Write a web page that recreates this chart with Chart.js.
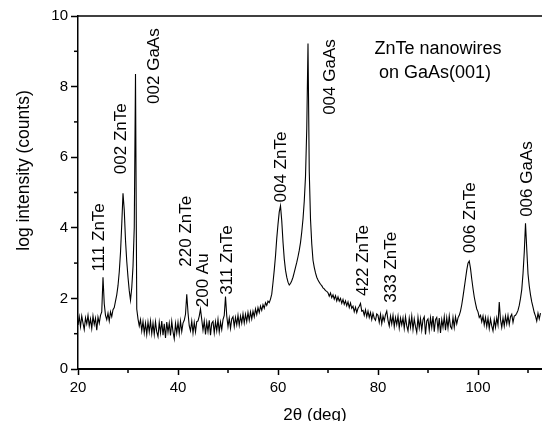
<!DOCTYPE html>
<html><head><meta charset="utf-8">
<script src="https://cdn.jsdelivr.net/npm/chart.js@4.4.1/dist/chart.umd.min.js"></script>
<style>html,body{margin:0;padding:0;background:#fff;}canvas{display:block;}</style>
</head><body>
<canvas id="c" width="542" height="421"></canvas>
<script>
// 2θ sampling (deg)
const twoTheta = [
 20,20.25,20.5,20.75,21,21.25,21.5,21.75,22,22.25,22.5,22.75,23,23.25,23.5,23.75,24,24.25,24.5,24.75,
 25,25.25,25.5,25.75,26,26.25,26.5,26.75,27,27.25,27.5,27.75,28,28.25,28.5,28.75,29,29.25,29.5,29.75,
 30,30.25,30.5,30.75,31,31.25,31.5,31.75,32,32.25,32.5,32.75,33,33.25,33.5,33.75,34,34.25,34.5,34.75,
 35,35.25,35.5,35.75,36,36.25,36.5,36.75,37,37.25,37.5,37.75,38,38.25,38.5,38.75,39,39.25,39.5,39.75,
 40,40.25,40.5,40.75,41,41.25,41.5,41.75,42,42.25,42.5,42.75,43,43.25,43.5,43.75,44,44.25,44.5,44.75,
 45,45.25,45.5,45.75,46,46.25,46.5,46.75,47,47.25,47.5,47.75,48,48.25,48.5,48.75,49,49.25,49.5,49.75,
 50,50.25,50.5,50.75,51,51.25,51.5,51.75,52,52.25,52.5,52.75,53,53.25,53.5,53.75,54,54.25,54.5,54.75,
 55,55.25,55.5,55.75,56,56.25,56.5,56.75,57,57.25,57.5,57.75,58,58.25,58.5,58.75,59,59.25,59.5,59.75,
 60,60.25,60.5,60.75,61,61.25,61.5,61.75,62,62.25,62.5,62.75,63,63.25,63.5,63.75,64,64.25,64.5,64.75,
 65,65.25,65.5,65.75,66,66.25,66.5,66.75,67,67.25,67.5,67.75,68,68.25,68.5,68.75,69,69.25,69.5,69.75,
 70,70.25,70.5,70.75,71,71.25,71.5,71.75,72,72.25,72.5,72.75,73,73.25,73.5,73.75,74,74.25,74.5,74.75,
 75,75.25,75.5,75.75,76,76.25,76.5,76.75,77,77.25,77.5,77.75,78,78.25,78.5,78.75,79,79.25,79.5,79.75,
 80,80.25,80.5,80.75,81,81.25,81.5,81.75,82,82.25,82.5,82.75,83,83.25,83.5,83.75,84,84.25,84.5,84.75,
 85,85.25,85.5,85.75,86,86.25,86.5,86.75,87,87.25,87.5,87.75,88,88.25,88.5,88.75,89,89.25,89.5,89.75,
 90,90.25,90.5,90.75,91,91.25,91.5,91.75,92,92.25,92.5,92.75,93,93.25,93.5,93.75,94,94.25,94.5,94.75,
 95,95.25,95.5,95.75,96,96.25,96.5,96.75,97,97.25,97.5,97.75,98,98.25,98.5,98.75,99,99.25,99.5,99.75,
 100,100.25,100.5,100.75,101,101.25,101.5,101.75,102,102.25,102.5,102.75,103,103.25,103.5,103.75,104,104.25,104.5,104.75,
 105,105.25,105.5,105.75,106,106.25,106.5,106.75,107,107.25,107.5,107.75,108,108.25,108.5,108.75,109,109.25,109.5,109.75,
 110,110.25,110.5,110.75,111,111.25,111.5,111.75,112,112.25,112.5
];
// log intensity (counts)
const logIntensity = [
 1.25,1.48,1.20,1.50,1.30,1.12,1.45,1.28,1.52,1.22,1.42,1.15,1.50,1.26,1.44,1.10,1.47,1.30,1.52,1.62,
 2.60,1.85,1.52,1.40,1.58,1.36,1.62,1.48,1.68,1.74,1.92,2.10,2.36,2.75,3.30,4.10,4.98,4.50,3.65,3.05,
 2.60,2.22,1.95,2.30,2.90,4.00,8.36,1.70,1.42,1.22,1.40,1.08,1.35,1.02,1.30,0.98,1.33,1.05,1.36,1.00,
 1.30,0.98,1.34,1.05,0.92,1.32,1.02,1.36,0.96,1.28,0.88,1.33,1.04,1.30,0.95,1.35,1.06,0.86,1.29,1.02,
 1.32,1.00,1.36,1.06,1.30,1.38,1.55,2.12,1.60,1.22,1.08,1.36,1.02,1.32,1.05,1.34,1.36,1.50,1.70,1.40,
 1.10,1.36,0.98,1.32,1.06,1.38,0.96,1.30,1.35,1.02,1.34,1.08,1.40,1.05,1.33,1.12,1.40,1.52,2.05,1.50,
 1.20,1.44,1.15,1.42,1.48,1.20,1.46,1.25,1.52,1.24,1.50,1.30,1.56,1.30,1.55,1.34,1.60,1.38,1.62,1.42,
 1.64,1.48,1.70,1.54,1.74,1.60,1.78,1.66,1.82,1.72,1.88,1.80,1.92,1.88,1.98,2.12,2.45,2.80,3.20,3.70,
 4.10,4.45,4.62,4.20,3.60,3.12,2.80,2.60,2.46,2.38,2.42,2.50,2.60,2.74,2.88,3.02,3.18,3.36,3.58,3.88,
 4.25,4.75,5.45,6.80,9.22,5.60,4.25,3.55,3.08,2.88,2.72,2.60,2.52,2.46,2.40,2.36,2.30,2.27,2.22,2.20,
 2.16,2.06,2.15,2.02,2.10,1.98,2.08,1.93,2.04,1.92,2.00,1.86,1.97,1.83,1.93,1.79,1.90,1.74,1.87,1.72,
 1.78,1.62,1.75,1.60,1.72,1.78,1.86,1.64,1.66,1.52,1.68,1.48,1.64,1.46,1.60,1.40,1.58,1.44,1.38,1.56,
 1.52,1.32,1.55,1.28,1.50,1.36,1.54,1.64,1.38,1.22,1.50,1.28,1.52,1.20,1.46,1.26,1.50,1.16,1.44,1.25,
 1.45,1.15,1.48,1.22,1.08,1.44,1.18,1.50,1.12,1.42,1.20,1.04,1.46,1.16,1.43,1.10,1.40,1.48,0.98,1.36,
 1.42,1.10,1.45,1.18,1.50,1.06,1.40,1.46,1.12,1.44,1.02,1.40,1.18,1.48,1.10,1.45,1.16,1.50,1.20,1.14,
 1.46,1.18,1.48,1.28,1.45,1.52,1.64,1.82,2.05,2.30,2.55,2.80,3.00,3.06,2.85,2.55,2.28,2.04,1.86,1.70,
 1.62,1.46,1.52,1.34,1.50,1.25,1.46,1.20,1.44,1.15,1.42,1.22,1.08,1.40,1.18,1.45,1.25,1.90,1.40,1.18,
 1.45,1.22,1.50,1.28,1.52,1.26,1.48,1.55,1.32,1.50,1.52,1.58,1.66,1.80,2.00,2.25,2.70,3.30,4.13,3.40,
 2.70,2.35,2.10,1.90,1.75,1.60,1.50,1.36,1.58,1.42,1.58
];
const xTickValues = [20, 40, 60, 80, 100];
const xMinorTicks = [30, 50, 70, 90, 110];
const yTickValues = [0, 2, 4, 6, 8, 10];
const yMinorTicks = [1, 3, 5, 7, 9];
const peakLabels = ["111 ZnTe","002 ZnTe","002 GaAs","220 ZnTe","200 Au","311 ZnTe",
                    "004 ZnTe","004 GaAs","422 ZnTe","333 ZnTe","006 ZnTe","006 GaAs"];
// annotation anchors (2θ of text baseline, log intensity of text start)
const peakLabelAnchors = [[25.2,2.76],[29.6,5.52],[36.26,7.51],[42.5,2.90],[45.9,1.75],[50.7,2.10],
                          [61.6,4.72],[71.3,7.20],[77.9,2.07],[83.6,1.88],[99.3,3.28],[110.7,4.31]];
const sampleText = ["ZnTe nanowires", "on GaAs(001)"];
const sampleAnchors = [[92.0,8.92],[91.4,8.24]];

const FONT = '"Liberation Sans", Arial, sans-serif';

const decor = {
  id: 'decor',
  afterDraw(chart) {
    const {ctx, chartArea: a, scales: {x, y}} = chart;
    ctx.save();
    ctx.strokeStyle = '#000';
    ctx.lineWidth = 1.5;
    ctx.beginPath(); ctx.moveTo(a.left - 0.75, a.top); ctx.lineTo(a.right, a.top); ctx.stroke();
    xMinorTicks.forEach(v => { const p = x.getPixelForValue(v);
      ctx.beginPath(); ctx.moveTo(p, a.bottom); ctx.lineTo(p, a.bottom + 4); ctx.stroke(); });
    yMinorTicks.forEach(v => { const p = y.getPixelForValue(v);
      ctx.beginPath(); ctx.moveTo(a.left, p); ctx.lineTo(a.left - 4, p); ctx.stroke(); });
    ctx.fillStyle = '#000';
    ctx.font = '17px ' + FONT;
    peakLabels.forEach((t, i) => {
      const px = x.getPixelForValue(peakLabelAnchors[i][0]);
      const py = y.getPixelForValue(peakLabelAnchors[i][1]);
      ctx.save(); ctx.translate(px, py); ctx.rotate(-Math.PI / 2);
      ctx.textAlign = 'left'; ctx.textBaseline = 'alphabetic';
      ctx.fillText(t, 0, 0); ctx.restore();
    });
    ctx.font = '18px ' + FONT;
    ctx.textAlign = 'center'; ctx.textBaseline = 'alphabetic';
    sampleText.forEach((t, i) => {
      ctx.fillText(t, x.getPixelForValue(sampleAnchors[i][0]), y.getPixelForValue(sampleAnchors[i][1]));
    });
    // axis titles
    ctx.font = '17px ' + FONT;
    ctx.fillText('2θ (deg)', (a.left + a.right) / 2 + 5, 420);
    ctx.save(); ctx.translate(28.5, 170.5); ctx.rotate(-Math.PI / 2);
    ctx.font = '17.5px ' + FONT; ctx.textAlign = 'center';
    ctx.fillText('log intensity (counts)', 0, 0); ctx.restore();
    ctx.restore();
  }
};

new Chart(document.getElementById('c'), {
  type: 'line',
  data: {
    datasets: [{
      data: twoTheta.map((v, i) => ({x: v, y: logIntensity[i]})),
      borderColor: '#000', borderWidth: 1.1, pointRadius: 0, tension: 0, fill: false
    }]
  },
  options: {
    responsive: false, animation: false, devicePixelRatio: 1,
    layout: {padding: {top: 16, right: 0, left: 0, bottom: 0}},
    plugins: {legend: {display: false}, tooltip: {enabled: false}},
    scales: {
      x: {
        type: 'linear', min: 20, max: 112.8,
        afterFit: s => { s.height = 52; },
        afterBuildTicks: s => { s.ticks = xTickValues.map(v => ({value: v})); },
        border: {display: true, color: '#000', width: 2},
        grid: {display: true, drawOnChartArea: false, drawTicks: true, tickLength: 6, tickColor: '#000', tickWidth: 1.5},
        ticks: {color: '#000', font: {family: FONT, size: 15}, padding: 4, maxRotation: 0, autoSkip: false}
      },
      y: {
        type: 'linear', min: 0, max: 10,
        afterFit: s => { s.width = 78; },
        afterBuildTicks: s => { s.ticks = yTickValues.map(v => ({value: v})); },
        border: {display: true, color: '#000', width: 1.5},
        grid: {display: true, drawOnChartArea: false, drawTicks: true, tickLength: 7, tickColor: '#000', tickWidth: 1.5},
        ticks: {color: '#000', font: {family: FONT, size: 15}, padding: 3, autoSkip: false}
      }
    }
  },
  plugins: [decor]
});
</script>
</body></html>
